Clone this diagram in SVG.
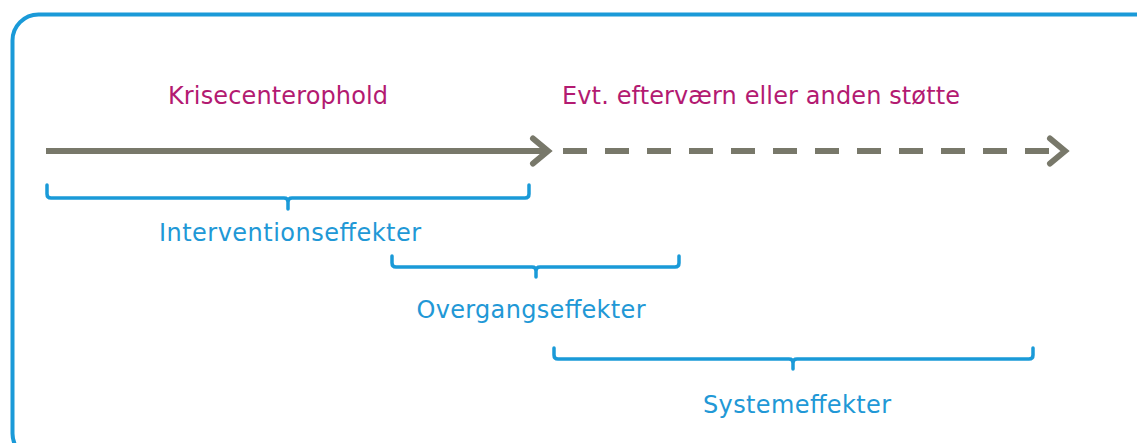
<svg xmlns="http://www.w3.org/2000/svg" width="1137" height="443" viewBox="0 0 1137 443">
  <style>
    .phase { font-family: "DejaVu Sans", Verdana, sans-serif; font-size: 24px; fill: #b31a71; text-anchor: middle; }
    .effect { font-family: "DejaVu Sans", Verdana, sans-serif; font-size: 24px; fill: #2198d6; text-anchor: middle; }
    .bracket { fill: none; stroke: #1a9ad8; stroke-width: 3.5; stroke-linecap: round; stroke-linejoin: round; }
    .axis { fill: none; stroke: #78786a; stroke-width: 6; }
    .head { fill: none; stroke: #78786a; stroke-width: 6; stroke-linecap: round; stroke-linejoin: miter; }
  </style>
  <rect width="1137" height="443" fill="#ffffff"/>
  <rect id="frame" x="12.5" y="14.5" width="1150" height="445" rx="26" ry="26" fill="none" stroke="#1a9ad8" stroke-width="4"/>

  <g id="connectors">
    <line class="axis" x1="46" y1="151" x2="546" y2="151"/>
    <polyline class="head" points="533,138.5 548,151 533,163.5"/>
    <line class="axis" x1="563" y1="151" x2="1064" y2="151" stroke-dasharray="24 18"/>
    <polyline class="head" points="1050,138.5 1065,151 1050,163.5"/>
  </g>

  <g id="phase-krisecenterophold">
    <text class="phase" x="278" y="104" textLength="220" lengthAdjust="spacing">Krisecenterophold</text>
  </g>
  <g id="phase-efterværn">
    <text class="phase" x="761" y="104" textLength="398" lengthAdjust="spacing">Evt. efterværn eller anden støtte</text>
  </g>

  <g id="effect-intervention">
    <path class="bracket" d="M47,185 V194 Q47,198 51,198 H284 Q288,198 288,202 V209 M288,202 Q288,198 292,198 H525 Q529,198 529,194 V185"/>
    <text class="effect" x="290" y="241" textLength="262" lengthAdjust="spacing">Interventionseffekter</text>
  </g>
  <g id="effect-overgang">
    <path class="bracket" d="M392,256 V263 Q392,267 396,267 H532 Q536,267 536,271 V277 M536,271 Q536,267 540,267 H675 Q679,267 679,263 V256"/>
    <text class="effect" x="531" y="318" textLength="229" lengthAdjust="spacing">Overgangseffekter</text>
  </g>
  <g id="effect-system">
    <path class="bracket" d="M554,348 V355 Q554,359 558,359 H789 Q793,359 793,363 V369 M793,363 Q793,359 797,359 H1029 Q1033,359 1033,355 V348"/>
    <text class="effect" x="797" y="413" textLength="188" lengthAdjust="spacing">Systemeffekter</text>
  </g>
</svg>
